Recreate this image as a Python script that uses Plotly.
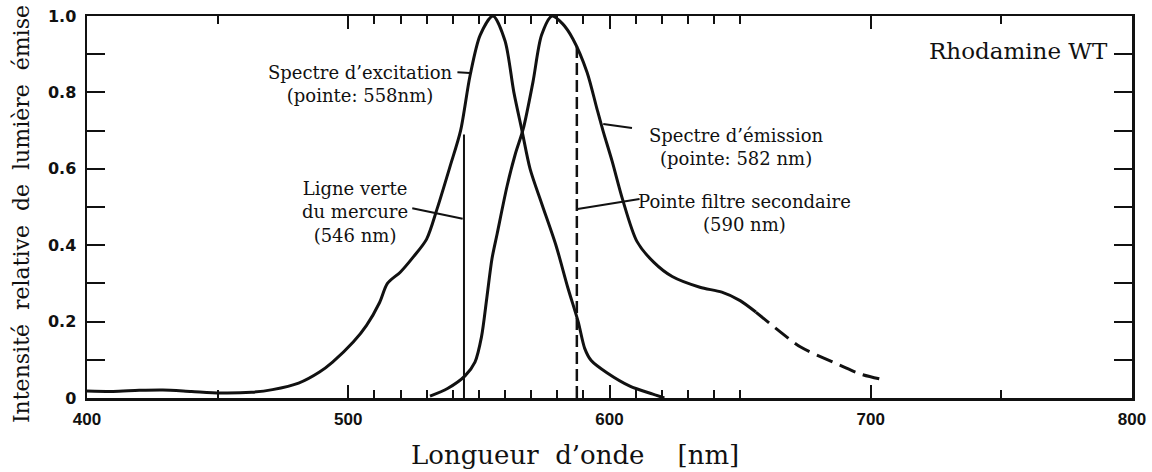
import plotly.graph_objects as go

# ---------------- data ----------------
exc_nm = [400, 410, 420, 429, 440, 451, 463, 471, 481, 489, 494, 502, 507, 512, 515,
          520, 525, 530, 534, 539, 543, 546.6, 550.5, 555.4, 560, 563.4, 566.5,
          569.6, 574, 579.5, 584, 588, 590.5, 593, 599, 607.8, 616.6, 621]
exc_int = [0.018, 0.017, 0.020, 0.021, 0.017, 0.013, 0.015, 0.022, 0.039, 0.068, 0.094,
           0.147, 0.190, 0.250, 0.300, 0.330, 0.370, 0.416, 0.495, 0.607, 0.700, 0.843,
           0.950, 1.000, 0.935, 0.800, 0.700, 0.600, 0.510, 0.400, 0.290, 0.200,
           0.130, 0.098, 0.066, 0.031, 0.010, 0.0]

em_nm = [531.3, 538, 544.7, 548.5, 551, 553, 555, 557, 560.8, 564, 567, 570.7, 574,
         578, 582, 586, 591.4, 595.2, 597.5, 601, 605, 610.5, 617, 624,
         634.6, 643, 650, 656]
em_int = [0.005, 0.025, 0.058, 0.094, 0.160, 0.260, 0.364, 0.430, 0.555, 0.640, 0.705,
          0.827, 0.950, 1.000, 0.980, 0.940, 0.853, 0.757, 0.700, 0.620, 0.520,
          0.410, 0.355, 0.318, 0.290, 0.277, 0.255, 0.225]

em_tail_nm = [656, 665, 673, 685.5, 696, 703.5]
em_tail_int = [0.225, 0.175, 0.134, 0.094, 0.063, 0.050]

mercury_nm = 544.3
mercury_top = 0.69
filter_nm = 587.5
filter_top = 0.925

x_major = [400, 500, 600, 700, 800]
x_labels = ["400", "500", "600", "700", "800"]
x_minor = [450, 510, 520, 530, 540, 550, 560, 570, 580, 590, 610, 620, 630, 640, 650, 750]
y_major = [0, 0.2, 0.4, 0.6, 0.8, 1.0]
y_labels = ["0", "0.2", "0.4", "0.6", "0.8", "1.0"]
y_minor = [0.1, 0.3, 0.5, 0.7, 0.9]

label_text = ["Spectre d’excitation<br>(pointe: 558nm)",
              "Ligne verte<br>du mercure<br>(546 nm)",
              "Spectre d’émission<br>(pointe: 582 nm)",
              "Pointe filtre secondaire<br>(590 nm)",
              "Rhodamine WT"]
label_x = [504.5, 502.6, 648.5, 651.5, 756.5]
label_y = [0.823, 0.486, 0.656, 0.484, 0.908]
label_size = [18, 18, 18, 18, 23]
leader_x0 = [541.8, 524.5, 597.6, 587.8]
leader_y0 = [0.853, 0.497, 0.717, 0.495]
leader_x1 = [546.6, 543.8, 608.6, 611.5]
leader_y1 = [0.851, 0.469, 0.707, 0.521]

x_title = "Longueur\u00a0 d’onde \u00a0\u00a0\u00a0[nm]"
y_title = "Intensité\u00a0 relative\u00a0 de\u00a0 lumière\u00a0 émise"

SERIF = "DejaVu Serif"
INK = "#111111"

fig = go.Figure()

curve_line = dict(color=INK, width=3, shape="spline", smoothing=0.8)
fig.add_trace(go.Scatter(x=exc_nm, y=exc_int, mode="lines", line=curve_line,
                         hoverinfo="skip", showlegend=False))
fig.add_trace(go.Scatter(x=em_nm, y=em_int, mode="lines", line=curve_line,
                         hoverinfo="skip", showlegend=False))
fig.add_trace(go.Scatter(x=em_tail_nm, y=em_tail_int, mode="lines",
                         line=dict(color=INK, width=3, dash="17px,8px", shape="spline", smoothing=0.8),
                         hoverinfo="skip", showlegend=False))
fig.add_trace(go.Scatter(x=[mercury_nm, mercury_nm], y=[0, mercury_top], mode="lines",
                         line=dict(color=INK, width=2),
                         hoverinfo="skip", showlegend=False))
fig.add_trace(go.Scatter(x=[filter_nm, filter_nm], y=[0, filter_top], mode="lines",
                         line=dict(color=INK, width=2.5, dash="12px,5px"),
                         hoverinfo="skip", showlegend=False))

for i in range(len(leader_x0)):
    fig.add_shape(type="line", xref="x", yref="y",
                  x0=leader_x0[i], y0=leader_y0[i], x1=leader_x1[i], y1=leader_y1[i],
                  line=dict(color=INK, width=2))

for t, x, y, s in zip(label_text, label_x, label_y, label_size):
    fig.add_annotation(x=x, y=y, xref="x", yref="y", text=t, showarrow=False,
                       xanchor="center", yanchor="middle", align="center",
                       font=dict(family=SERIF, size=s, color=INK))

fig.add_annotation(x=0.467, y=-0.105, xref="paper", yref="paper", text=x_title,
                   showarrow=False, xanchor="center", yanchor="top",
                   font=dict(family=SERIF, size=26, color=INK))
fig.add_annotation(x=-0.062, y=0.482, xref="paper", yref="paper", text=y_title,
                   showarrow=False, textangle=-90, xanchor="center", yanchor="middle",
                   font=dict(family=SERIF, size=22, color=INK))

fig.update_xaxes(range=[400, 800], showgrid=False, zeroline=False, automargin=False,
                 showline=True, linewidth=2.5, linecolor=INK, mirror="ticks",
                 ticks="inside", ticklen=13, tickwidth=2, tickcolor=INK,
                 tickmode="array", tickvals=x_major, ticktext=x_labels,
                 ticklabelstandoff=4, ticklabeloverflow="allow",
                 tickfont=dict(family="Liberation Sans", size=17, color=INK, weight="bold"),
                 minor=dict(tickvals=x_minor, ticks="inside", ticklen=8, tickwidth=2,
                            tickcolor=INK, showgrid=False))
fig.update_yaxes(range=[0, 1.0], showgrid=False, zeroline=False, automargin=False,
                 showline=True, linewidth=2.5, linecolor=INK, mirror="ticks",
                 ticks="inside", ticklen=18, tickwidth=2, tickcolor=INK,
                 tickmode="array", tickvals=y_major, ticktext=y_labels,
                 ticklabelstandoff=5, ticklabeloverflow="allow",
                 tickfont=dict(family="DejaVu Sans", size=16, color=INK, weight="bold"),
                 minor=dict(tickvals=y_minor, ticks="inside", ticklen=18, tickwidth=2,
                            tickcolor=INK, showgrid=False))

fig.update_layout(width=1152, height=472, margin=dict(l=87, r=20, t=16, b=74),
                  paper_bgcolor="white", plot_bgcolor="white", showlegend=False,
                  hovermode=False)

# remove the browser's default 8 px body margin so the figure fills the window exactly
fig.write_html("out.html", config={"displayModeBar": False, "staticPlot": True},
               post_script="document.body.style.margin='0';document.body.style.overflow='hidden';")
